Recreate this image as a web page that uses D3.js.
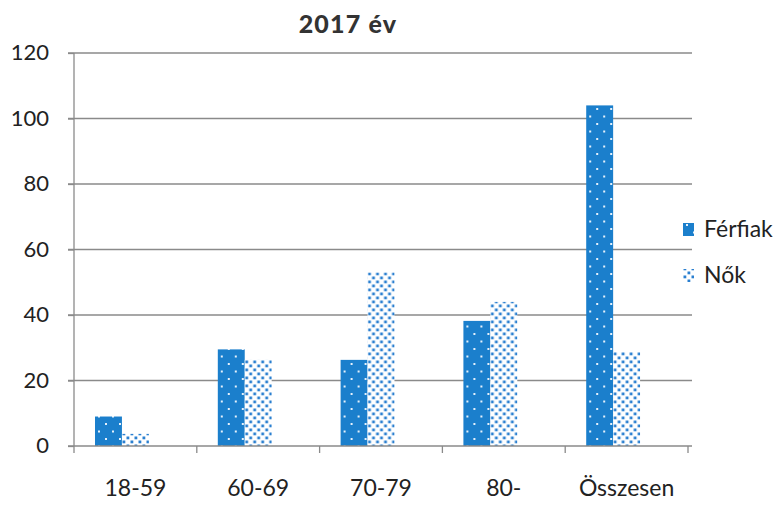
<!DOCTYPE html>
<html><head><meta charset="utf-8">
<script src="https://cdn.jsdelivr.net/npm/d3@7"></script>
<style>body{margin:0;background:#fff}svg{display:block}</style>
</head><body><svg id="c" width="782" height="508"></svg>
<script>
const categories = ["18-59","60-69","70-79","80-","Összesen"];
const seriesNames = ["Férfiak","Nők"];
const ferfiak = [9, 29.5, 26.3, 38.2, 104];
const nok = [3.7, 26.3, 53, 44, 28.7];
const yTicks = [0,20,40,60,80,100,120];
const title = "2017 év";

const svg = d3.select("#c");
const M = {left:74, right:94, top:53, bottom:62};
const W = 782, H = 508;
const x0 = d3.scaleBand().domain(categories).range([M.left, W - M.right]).padding(0);
const x1 = d3.scaleBand().domain([...seriesNames, "_"]).range([0, x0.bandwidth()]).paddingInner(0).paddingOuter(0.78);
const y = d3.scaleLinear().domain([0,120]).range([H - M.bottom, M.top]);

const defs = svg.append("defs");
const pf = defs.append("pattern").attr("id","pF").attr("patternUnits","userSpaceOnUse").attr("width",14).attr("height",15);
pf.append("rect").attr("width",14).attr("height",15).attr("fill","#1b7fcc");
pf.append("rect").attr("x",3).attr("y",3).attr("width",2).attr("height",2).attr("fill","#e6f1fb");
pf.append("rect").attr("x",10).attr("y",10.5).attr("width",2).attr("height",2).attr("fill","#e6f1fb");
const pn = defs.append("pattern").attr("id","pN").attr("patternUnits","userSpaceOnUse").attr("width",8).attr("height",8);
pn.append("rect").attr("width",8).attr("height",8).attr("fill","#fff");
pn.append("rect").attr("x",0.5).attr("y",0.5).attr("width",2.8).attr("height",2.8).attr("fill","#2a7fd0");
pn.append("rect").attr("x",4.5).attr("y",4.5).attr("width",2.8).attr("height",2.8).attr("fill","#2a7fd0");

const font = "Lato, 'Open Sans', sans-serif";

// gridlines
svg.append("g").selectAll("line").data(yTicks.filter(d=>d>0)).join("line")
  .attr("x1", M.left - 6).attr("x2", W - M.right + 4)
  .attr("y1", d=>y(d)).attr("y2", d=>y(d))
  .attr("stroke","#8a8a8a").attr("stroke-width",1.3);

// y axis
const ya = svg.append("g").attr("transform",`translate(${M.left},0)`)
  .call(d3.axisLeft(y).tickValues(yTicks).tickSize(6).tickPadding(19));
ya.select(".domain").attr("stroke","#8a8a8a").attr("stroke-width",1.3).attr("d",`M0,${y(120)}V${y(0)}`);
ya.selectAll(".tick line").attr("stroke","#8a8a8a").attr("stroke-width",1.3);
ya.selectAll("text").attr("font-family",font).attr("font-size",22).attr("fill","#222").attr("dy","0.3em");

// bars
const data = categories.map((c,i)=>({c, vals:[{s:"Férfiak",v:ferfiak[i]},{s:"Nők",v:nok[i]}]}));
const g = svg.append("g");
g.selectAll("g").data(data).join("g").attr("transform",d=>`translate(${x0(d.c)},0)`)
  .selectAll("rect").data(d=>d.vals).join("rect")
  .attr("x",d=>x1(d.s)).attr("width",x1.bandwidth())
  .attr("y",d=>y(d.v)).attr("height",d=>y(0)-y(d.v))
  .attr("fill",d=>d.s==="Férfiak"?"url(#pF)":"url(#pN)");

// x axis
const xa = svg.append("g").attr("transform",`translate(0,${y(0)})`)
  .call(d3.axisBottom(x0).tickSize(0).tickPadding(34));
xa.select(".domain").attr("stroke","#8a8a8a").attr("stroke-width",1.3).attr("d",`M${M.left-6},0H${W-M.right+4}`);
xa.selectAll("text").attr("font-family",font).attr("font-size",23).attr("fill","#222");
const bounds = categories.map(c=>x0(c)).concat([x0(categories[categories.length-1])+x0.bandwidth()]);
xa.selectAll(".sep").data(bounds).join("line").attr("class","sep")
  .attr("x1",d=>d).attr("x2",d=>d).attr("y1",0).attr("y2",7)
  .attr("stroke","#8a8a8a").attr("stroke-width",1.3);

// title
svg.append("text").attr("x",348).attr("y",33).attr("text-anchor","middle")
  .attr("font-family",font).attr("font-weight","900").attr("font-size",25).attr("letter-spacing",1.2)
  .attr("fill","#333").text(title);

// legend
const lg = svg.append("g").attr("transform","translate(683,221)");
seriesNames.forEach((s,i)=>{
  const r = lg.append("g").attr("transform",`translate(0,${i*46})`);
  r.append("rect").attr("x",0).attr("y",2).attr("width",11).attr("height",13).attr("fill",i===0?"url(#pF)":"url(#pN)");
  r.append("text").attr("x",21).attr("y",16).attr("font-family",font).attr("font-size",23).attr("fill","#222").text(s);
});
</script></body></html>
